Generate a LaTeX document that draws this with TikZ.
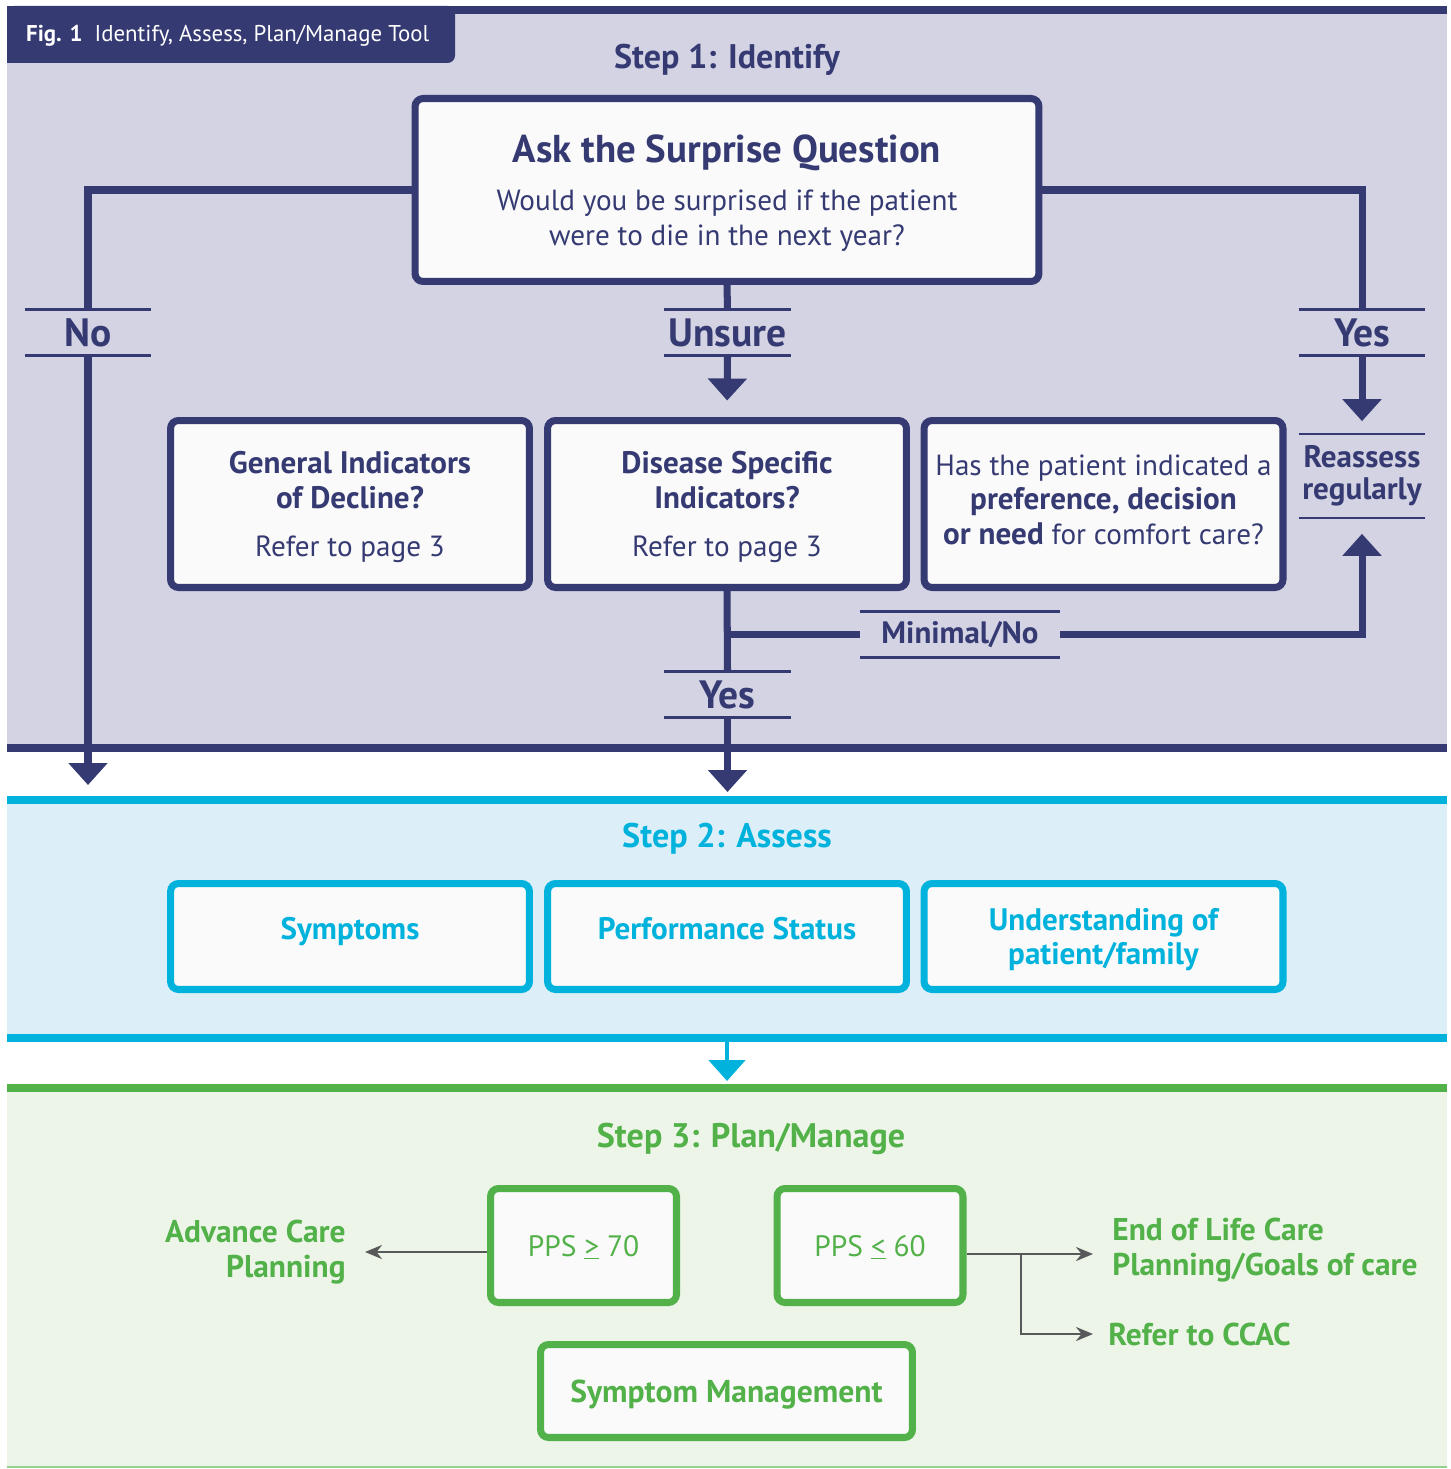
\documentclass[tikz,border=0pt]{standalone}
\usepackage{fontspec}
\setmainfont{PT Sans}
\usetikzlibrary{arrows.meta, positioning}

\definecolor{navy}{HTML}{353A72}
\definecolor{lavender}{HTML}{D3D3E3}
\definecolor{cyanb}{HTML}{00B2DC}
\definecolor{skyfill}{HTML}{DCEFF8}
\definecolor{leaf}{HTML}{52B148}
\definecolor{mint}{HTML}{ECF5E8}
\definecolor{boxfill}{HTML}{FAFAFA}
\definecolor{arrowgray}{HTML}{58595B}

\newcommand{\boldtxt}[1]{{\fontsize{17.7}{19.5}\selectfont\bfseries #1}}

\begin{document}
\begin{tikzpicture}[x=0.02cm, y=-0.02cm,
    qbox/.style={draw=navy, line width=4pt, rounded corners=0.16cm, fill=boxfill, align=center, text=navy, font=\fontsize{16.6}{19.5}\selectfont},
    abox/.style={qbox, draw=cyanb, text=cyanb, font=\fontsize{17.7}{19.8}\selectfont\bfseries},
    pbox/.style={qbox, draw=leaf, text=leaf},
    tag/.style={text=navy, font=\fontsize{22.5}{26}\selectfont\bfseries, align=center, minimum width=2.52cm, minimum height=0.9cm, inner sep=0pt},
    tagline/.style={draw=navy, line width=1.5pt},
    steptitle/.style={font=\fontsize{19.4}{23}\selectfont\bfseries},
    glabel/.style={text=leaf, font=\fontsize{17.9}{19.8}\selectfont\bfseries},
    flow/.style={draw=navy, line width=4pt},
    flowarrow/.style={flow, -{Triangle[width=0.76cm,length=0.44cm]}},
    grayline/.style={draw=arrowgray, line width=1.4pt},
    grayarrow/.style={grayline, -{Stealth[length=0.34cm,width=0.28cm]}}
]
    \useasboundingbox (0,0) rectangle (1450,1469);

    % bands
    \fill[lavender] (7,10) rectangle (1447,748);
    \fill[navy] (7,6) rectangle (1447,14);
    \fill[navy] (7,744) rectangle (1447,752);
    \fill[navy, rounded corners=0.15cm] (7,6) rectangle (455,63);
    \fill[navy] (7,6) rectangle (455,30);
    \fill[navy] (7,6) rectangle (300,63);
    \fill[skyfill] (7,800) rectangle (1447,1038);
    \fill[cyanb] (7,796) rectangle (1447,804);
    \fill[cyanb] (7,1034) rectangle (1447,1042);
    \fill[mint] (7,1088) rectangle (1447,1468);
    \fill[leaf] (7,1084) rectangle (1447,1092);
    \draw[leaf!60, line width=0.05cm] (7,1467) -- (1447,1467);

    \node[anchor=west, text=white, font=\fontsize{13}{15}\selectfont] (figtitle) at (20,36) {\textbf{Fig. 1}\ \ Identify, Assess, Plan/Manage Tool};

    % step 1
    \node[steptitle, text=navy] (step1) at (727,60) {Step 1: Identify};
    \node[qbox, minimum width=12.48cm, minimum height=3.66cm, text depth=0pt] (ask) at (727,190) {{\fontsize{22.1}{25}\selectfont\bfseries Ask the Surprise Question}\\[8pt] Would you be surprised if the patient\\were to die in the next year?};

    \node[tag] (tagno) at (88,332.5) {No};
    \node[tag] (tagunsure) at (727.5,332.5) {Unsure};
    \node[tag] (tagyes) at (1362,332.5) {Yes};
    \node[tag, minimum height=1.66cm, font=\fontsize{17.7}{18.2}\selectfont\bfseries] (reassess) at (1362,476) {Reassess\\regularly};

    \node[qbox, minimum width=7.18cm, minimum height=3.34cm, text depth=0pt] (general) at (350,504) {\boldtxt{General Indicators}\\\boldtxt{of Decline?}\\[8pt]Refer to page 3};
    \node[qbox, minimum width=7.18cm, minimum height=3.34cm, text depth=0pt] (disease) at (727,504) {\boldtxt{Disease Specific}\\\boldtxt{Indicators?}\\[8pt]Refer to page 3};
    \node[qbox, minimum width=7.18cm, minimum height=3.34cm, text depth=5pt] (comfort) at (1103.5,504) {Has the patient indicated a\\\boldtxt{preference, decision}\\\boldtxt{or need} for comfort care?};

    \node[tag, minimum width=4cm, font=\fontsize{17.6}{19}\selectfont\bfseries] (minimal) at (960,634.5) {Minimal/No};
    \node[tag] (tagyes2) at (727.5,694.5) {Yes};

    \foreach \t in {tagno,tagunsure,tagyes,reassess,minimal,tagyes2}
        \draw[tagline] (\t.north west) -- (\t.north east) (\t.south west) -- (\t.south east);

    \coordinate (noend) at (88,785);
    \coordinate (yesend) at (727.5,792);

    \draw[flow] (ask.west) -| (tagno.north);
    \draw[flowarrow] (tagno.south) -- (noend);
    \draw[flow] (ask.south) -- (tagunsure.north);
    \draw[flowarrow, shorten >=0.33cm] (tagunsure.south) -- (disease.north);
    \draw[flow] (ask.east) -| (tagyes.north);
    \draw[flowarrow, shorten >=0.26cm] (tagyes.south) -- (reassess.north);
    \draw[flow] (disease.south) -- (tagyes2.north);
    \draw[flow] (disease.south |- minimal.west) -- (minimal.west);
    \draw[flowarrow, shorten >=0.32cm] (minimal.east) -| (reassess.south);
    \draw[flowarrow] (tagyes2.south) -- (yesend);

    % step 2
    \node[steptitle, text=cyanb] (step2) at (727,839) {Step 2: Assess};
    \node[abox, minimum width=7.18cm, minimum height=2.12cm, text depth=9pt] (symptoms) at (350,936.5) {Symptoms};
    \node[abox, minimum width=7.18cm, minimum height=2.12cm, text depth=9pt] (performance) at (727,936.5) {Performance Status};
    \node[abox, minimum width=7.18cm, minimum height=2.12cm, text depth=0pt] (understanding) at (1103.5,936.5) {Understanding of\\patient/family};

    \coordinate (assessout) at (727,1042);
    \coordinate (planin) at (727,1081);
    \draw[draw=cyanb, line width=2.8pt, -{Triangle[width=0.72cm,length=0.42cm]}] (assessout) -- (planin);

    % step 3
    \node[steptitle, text=leaf] (step3) at (751,1139) {Step 3: Plan/Manage};
    \node[pbox, minimum width=3.72cm, minimum height=2.28cm, text depth=0pt, font=\fontsize{16.8}{19.5}\selectfont] (pps70) at (583.5,1245.5) {PPS \underline{>} 70};
    \node[pbox, minimum width=3.72cm, minimum height=2.28cm, text depth=0pt, font=\fontsize{16.8}{19.5}\selectfont] (pps60) at (870,1245.5) {PPS \underline{<} 60};
    \node[pbox, minimum width=7.44cm, minimum height=1.86cm, text depth=0pt, font=\fontsize{18}{19.5}\selectfont\bfseries] (symptommgmt) at (726.5,1391) {Symptom Management};

    \node[glabel, align=right, anchor=east, inner xsep=0.38cm] (acp) at (365,1252) {Advance Care\\Planning};
    \node[glabel, align=left, anchor=west, inner xsep=0.38cm] (eol) at (1093,1250) {End of Life Care\\Planning/Goals of care};
    \node[glabel, anchor=west, inner xsep=0.3cm] (ccac) at (1093,1334) {Refer to CCAC};

    \coordinate (split) at (1021,1254);
    \draw[grayarrow] (pps70.west |- acp.east) -- (acp.east);
    \draw[grayline] (pps60.east |- split) -- (split);
    \draw[grayarrow] (split) -- (split -| eol.west);
    \draw[grayarrow] (split) |- (ccac.west);
\end{tikzpicture}
\end{document}
